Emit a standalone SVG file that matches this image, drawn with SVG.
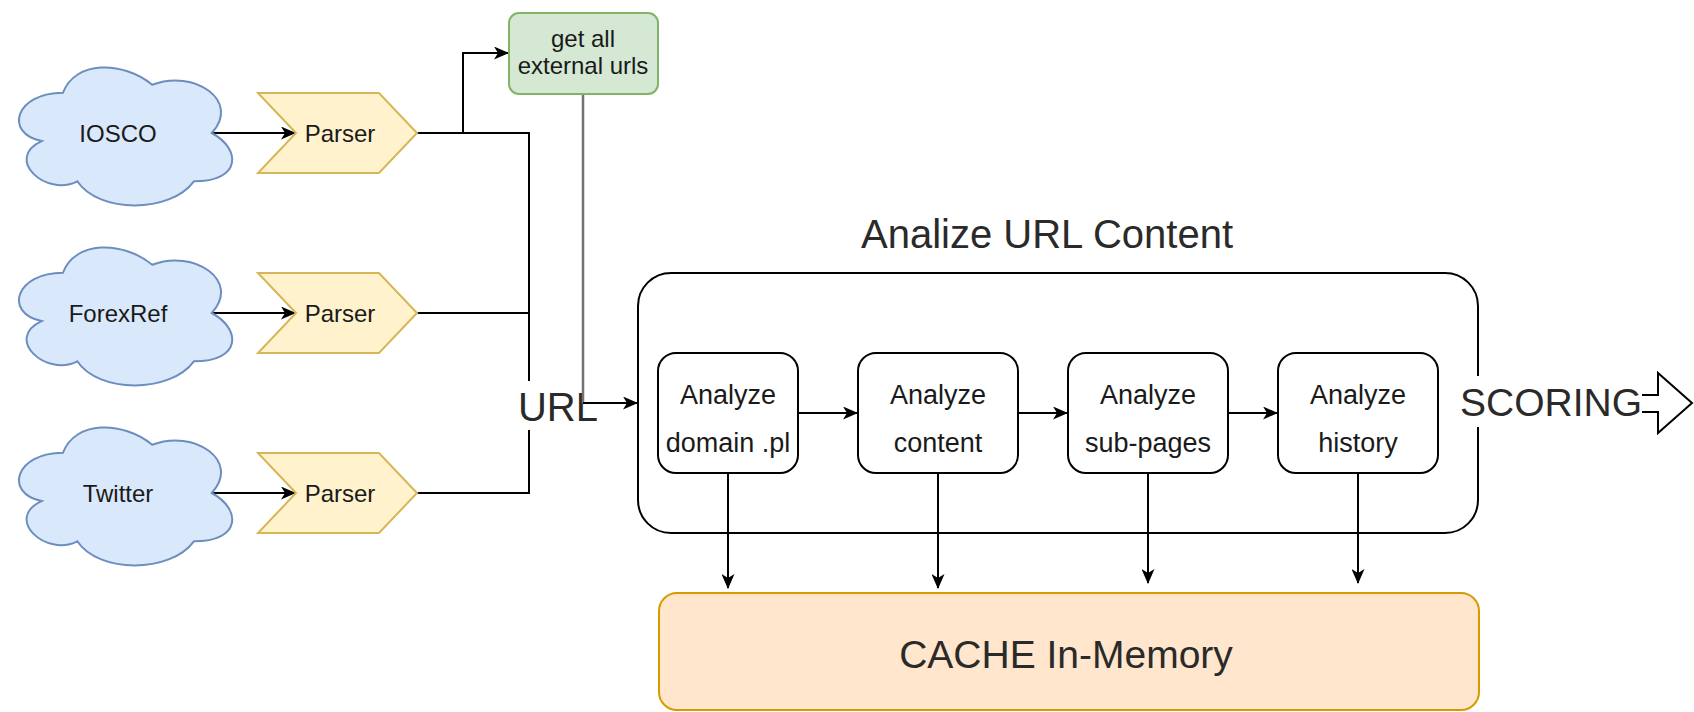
<svg xmlns="http://www.w3.org/2000/svg" xmlns:xlink="http://www.w3.org/1999/xlink" width="1694" height="712" viewBox="0 0 1694 712">
<style>
text{font-family:"Liberation Sans",Arial,Helvetica,sans-serif;fill:#1a1a1a;text-anchor:middle}
.s{font-size:24px}
.m{font-size:27px}
.l{font-size:40px;fill:#2a2a2a}
.cloud{fill:#dae8fc;stroke:#6c8ebf;stroke-width:2}
.parser{fill:#fff2cc;stroke:#d6b656;stroke-width:2}
.box{fill:#fff;stroke:#000;stroke-width:2}
.edge{fill:none;stroke:#000;stroke-width:2}
.gray{fill:none;stroke:#737373;stroke-width:2.5}
.arr{marker-end:url(#ah)}
</style>
<defs>
<marker id="ah" markerUnits="userSpaceOnUse" markerWidth="15" markerHeight="13" refX="14" refY="6.5" orient="auto">
<path d="M0,0 L15,6.5 L0,13 L4,6.5 Z" fill="#000"/>
</marker>
<path id="cloudp" d="M59.5,40.25 C11.9,40.25 0,80.5 38.08,88.55 C0,106.26 42.84,144.9 73.78,128.8 C95.2,161 166.6,161 190.4,128.8 C238,128.8 238,96.6 208.25,80.5 C238,48.3 190.4,16.1 148.75,32.2 C119,8.05 71.4,8.05 59.5,40.25 Z"/>
</defs>
<rect width="1694" height="712" fill="#fff"/>

<g id="analize-url-content">
<text class="l" x="1047" y="248">Analize URL Content</text>
<rect x="638" y="273" width="840" height="260" rx="33" fill="none" stroke="#000" stroke-width="2"/>
</g>

<g id="connectors">
<path class="edge arr" d="M212,133 L295,133"/>
<path class="edge arr" d="M212,313 L295,313"/>
<path class="edge arr" d="M212,493 L295,493"/>
<path class="edge" d="M417,133 L529,133 L529,493 L417,493"/>
<path class="edge" d="M417,313 L529,313"/>
<path class="edge arr" d="M463,133 L463,53 L508,53"/>
<rect x="518" y="381" width="80" height="49" fill="#fff"/>
<text class="l" x="558" y="421">URL</text>
<path class="gray" d="M583,94 L583,403"/>
<path class="edge arr" d="M583,403 L637,403"/>
<path class="edge arr" d="M798,413 L857,413"/>
<path class="edge arr" d="M1018,413 L1067,413"/>
<path class="edge arr" d="M1228,413 L1277,413"/>
<path class="edge arr" d="M728,473 L728,588"/>
<path class="edge arr" d="M938,473 L938,588"/>
<path class="edge arr" d="M1148,473 L1148,583"/>
<path class="edge arr" d="M1358,473 L1358,583"/>
</g>

<g id="iosco"><use xlink:href="#cloudp" class="cloud" x="3.5" y="52.5"/><text class="s" x="118" y="142">IOSCO</text></g>
<g id="forexref"><use xlink:href="#cloudp" class="cloud" x="3.5" y="232.5"/><text class="s" x="118" y="322">ForexRef</text></g>
<g id="twitter"><use xlink:href="#cloudp" class="cloud" x="3.5" y="412.5"/><text class="s" x="118" y="502">Twitter</text></g>

<g id="parser1"><polygon class="parser" points="258,93 379,93 417,133 379,173 258,173 296,133"/><text class="s" x="340" y="142">Parser</text></g>
<g id="parser2"><polygon class="parser" points="258,273 379,273 417,313 379,353 258,353 296,313"/><text class="s" x="340" y="322">Parser</text></g>
<g id="parser3"><polygon class="parser" points="258,453 379,453 417,493 379,533 258,533 296,493"/><text class="s" x="340" y="502">Parser</text></g>

<g id="get-urls"><rect x="509" y="13" width="149" height="81" rx="10" fill="#d5e8d4" stroke="#82b366" stroke-width="2"/><text class="s" x="583" y="47">get all</text><text class="s" x="583" y="74">external urls</text></g>

<g id="analyze-domain"><rect class="box" x="658" y="353" width="140" height="120" rx="18"/><text class="m" x="728" y="404">Analyze</text><text class="m" x="728" y="452">domain .pl</text></g>
<g id="analyze-content"><rect class="box" x="858" y="353" width="160" height="120" rx="18"/><text class="m" x="938" y="404">Analyze</text><text class="m" x="938" y="452">content</text></g>
<g id="analyze-subpages"><rect class="box" x="1068" y="353" width="160" height="120" rx="18"/><text class="m" x="1148" y="404">Analyze</text><text class="m" x="1148" y="452">sub-pages</text></g>
<g id="analyze-history"><rect class="box" x="1278" y="353" width="160" height="120" rx="18"/><text class="m" x="1358" y="404">Analyze</text><text class="m" x="1358" y="452">history</text></g>

<g id="scoring">
<polygon points="1480,395 1658,395 1658,373 1692,403 1658,433 1658,412 1480,412" fill="#fff" stroke="#000" stroke-width="2" stroke-linejoin="miter"/>
<rect x="1456" y="376" width="186" height="51" fill="#fff"/>
<text class="l" x="1551" y="416" style="font-size:39px">SCORING</text>
</g>

<g id="cache"><rect x="659" y="593" width="820" height="117" rx="18" fill="#ffe6cc" stroke="#d79b00" stroke-width="2"/><text class="l" x="1066" y="668" style="font-size:39px">CACHE In-Memory</text></g>
</svg>
